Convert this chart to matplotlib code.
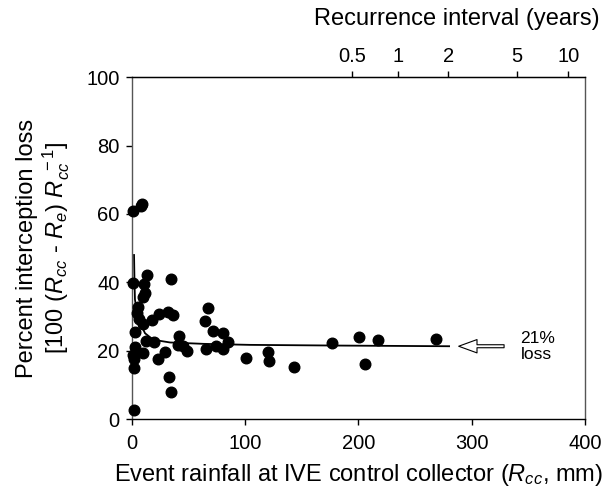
import matplotlib
matplotlib.use('Agg')
import matplotlib.pyplot as plt

plt.rcParams['font.family'] = ['Liberation Sans']
plt.rcParams['mathtext.fontset'] = 'custom'
plt.rcParams['mathtext.rm'] = 'Liberation Sans'
plt.rcParams['mathtext.it'] = 'Liberation Sans:italic'
plt.rcParams['font.size'] = 12

# event rainfall (mm) and percent interception loss
rain = [0.6, 1.2, 7.7, 8.6, 13.0, 10.9, 11.5, 10.0, 34.4, 5.6, 4.8, 6.2, 10.0,
        18.0, 24.0, 31.5, 36.0, 2.6, 12.2, 19.7, 41.2, 40.3, 44.6, 48.3, 2.6,
        1.2, 2.0, 9.6, 29.0, 23.3, 2.0, 33.0, 34.4, 2.0, 64.5, 67.2, 71.5,
        80.6, 84.5, 65.2, 74.2, 80.0, 100.6, 120.4, 121.3, 143.0, 176.9,
        200.4, 205.7, 217.5, 268.2]
loss = [39.8, 60.8, 62.3, 63.0, 42.2, 39.6, 36.9, 35.6, 41.1, 32.9, 30.9, 29.2,
        27.8, 28.9, 30.7, 31.4, 30.4, 25.6, 22.7, 22.4, 24.3, 21.7, 21.5, 20.0,
        21.0, 18.8, 17.6, 19.4, 19.6, 17.7, 14.8, 12.2, 8.0, 2.5, 28.8, 32.6,
        25.9, 25.1, 22.6, 20.4, 21.3, 20.4, 17.8, 19.6, 17.1, 15.2, 22.2, 24.0,
        16.1, 23.2, 23.4]

# fitted curve
fit_x = [1.8, 2.2, 2.6, 4.0, 5.6, 8.0, 11.5, 18.8, 33.6, 63.0, 104.0, 180.0, 280.0]
fit_y = [48.0, 40.0, 35.0, 32.0, 30.0, 27.5, 25.1, 23.2, 22.4, 22.0, 21.7, 21.5, 21.3]

# recurrence interval (years) and matching rainfall depth (mm)
ri_labels = ['0.5', '1', '2', '5', '10']
ri_depth = [194.3, 234.7, 279.4, 339.7, 385.3]


def main():
    fig = plt.figure(figsize=(6.10, 4.95), dpi=100)
    ax = fig.add_axes([0.2164, 0.1535, 0.7426, 0.6903])

    ax.scatter(rain, loss, s=58, color='black', zorder=3, clip_on=False)
    ax.plot(fit_x, fit_y, color='black', linewidth=1.3)

    ax.set_xlim(0, 400)
    ax.set_ylim(0, 100)
    ax.set_xticks([0, 100, 200, 300, 400])
    ax.set_yticks([0, 20, 40, 60, 80, 100])
    ax.tick_params(direction='out', length=4, width=1, labelsize=14.5, pad=5)
    ax.tick_params(axis='x', pad=7)
    for sp in ax.spines.values():
        sp.set_linewidth(1.0)
    ax.spines['left'].set_color('#555555')
    ax.spines['right'].set_color('#555555')

    ax.set_xlabel(r'Event rainfall at IVE control collector ($\mathit{R}_{cc}$, mm)',
                  fontsize=17, labelpad=6)
    ax.set_ylabel('Percent interception loss\n'
                  r'[100 ($\mathit{R}_{cc}$ - $\mathit{R}_{e}$) $\mathit{R}_{cc}^{\ -1}$]',
                  fontsize=17, labelpad=10, linespacing=1.1)

    top = ax.secondary_xaxis('top')
    top.set_xticks(ri_depth)
    top.set_xticklabels(ri_labels)
    top.tick_params(direction='out', length=4, width=1, labelsize=14.5, pad=4)
    # top axis title sits off to the right in the original
    ax.text(0.717, 1.172, 'Recurrence interval (years)', transform=ax.transAxes,
            fontsize=17, ha='center', va='center')

    ax.annotate('', xy=(286, 21.3), xytext=(331, 21.3),
                arrowprops=dict(arrowstyle='simple,head_width=0.8,head_length=1.1,tail_width=0.18',
                                fc='white', ec='black', lw=0.8))
    ax.text(343, 21.2, '21%\nloss', fontsize=12.5, ha='left', va='center', linespacing=1.1)

    fig.savefig('out.png', dpi=100)


if __name__ == '__main__':
    main()
